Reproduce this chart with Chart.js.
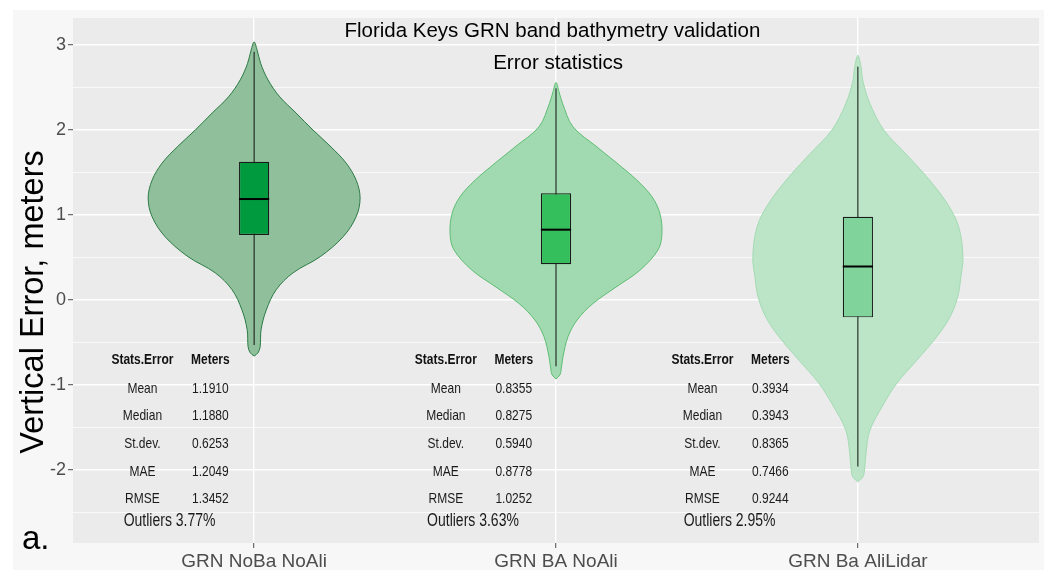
<!DOCTYPE html>
<html>
<head>
<meta charset="utf-8">
<title>Florida Keys GRN band bathymetry validation</title>
<script src="https://cdn.jsdelivr.net/npm/chart.js@4.4.1/dist/chart.umd.min.js"></script>
<style>
  html, body { margin: 0; padding: 0; background: #fff; }
  #wrap { width: 1044px; height: 572px; }
</style>
</head>
<body>
<div id="wrap"><canvas id="violinChart" width="1044" height="572"></canvas></div>
<script>
const categories = ['GRN NoBa NoAli', 'GRN BA NoAli', 'GRN Ba AliLidar'];

// violin outlines: error level (m) and half width (category units)
const levels1 = [-0.66, -0.62, -0.55, -0.35, -0.12, 0.12, 0.32, 0.51, 0.745, 0.98, 1.20, 1.41, 1.61, 1.80, 2.00, 2.20, 2.39, 2.59, 2.78, 2.94, 3.037];
const widths1 = [0, 0.013, 0.020, 0.023, 0.040, 0.073, 0.129, 0.219, 0.295, 0.338, 0.351, 0.338, 0.305, 0.255, 0.195, 0.139, 0.085, 0.046, 0.022, 0.010, 0];
const levels2 = [-0.93, -0.88, -0.82, -0.67, -0.43, -0.235, -0.04, 0.16, 0.35, 0.59, 0.785, 1.02, 1.215, 1.41, 1.61, 1.80, 2.04, 2.31, 2.45, 2.56];
const widths2 = [0, 0.013, 0.017, 0.023, 0.040, 0.070, 0.123, 0.202, 0.278, 0.338, 0.351, 0.344, 0.318, 0.268, 0.202, 0.136, 0.056, 0.022, 0.010, 0];
const levels3 = [-2.14, -2.08, -2.0, -1.80, -1.53, -1.22, -0.98, -0.71, -0.43, -0.20, 0.04, 0.27, 0.51, 0.86, 1.14, 1.45, 1.73, 2.0, 2.31, 2.57, 2.75, 2.88];
const widths3 = [0, 0.017, 0.022, 0.027, 0.040, 0.086, 0.129, 0.195, 0.262, 0.305, 0.331, 0.341, 0.348, 0.334, 0.295, 0.228, 0.156, 0.086, 0.040, 0.017, 0.010, 0];

// box plots
const q1 = [0.765, 0.42, -0.204];
const q3 = [1.627, 1.255, 0.98];
const whiskerLow = [-0.53, -0.78, -1.96];
const whiskerHigh = [2.92, 2.49, 2.745];

// error statistics per band setup
const statNames = ['Mean', 'Median', 'St.dev.', 'MAE', 'RMSE'];
const meanErr = [1.1910, 0.8355, 0.3934];
const medianErr = [1.1880, 0.8275, 0.3943];
const sdErr = [0.6253, 0.5940, 0.8365];
const maeErr = [1.2049, 0.8778, 0.7466];
const rmseErr = [1.3452, 1.0252, 0.9244];
const outlierPct = [3.77, 3.63, 2.95];

const yMajorTicks = [-2, -1, 0, 1, 2, 3];
const yMinorTicks = [-2.5, -1.5, -0.5, 0.5, 1.5, 2.5];

const FONT = "'Liberation Sans', Arial, sans-serif";
const BOX_WIDTH = 0.1;
const NARROW = 0.8; // condensed look of the table text
const violinFill = ['#8fc09b', '#a1dab0', '#bce5c8'];
const violinLine = ['#2c7a45', '#5fbd74', '#a3dbb3'];
const boxFill = ['#009a3e', '#35bf5c', '#80d39a'];

// table layout (x in category units, y in metres)
const tableX = [0.63, 1.635, 2.485];
const headerY = -0.706;
const rowY = [-1.04, -1.365, -1.69, -2.02, -2.345];
const outlierY = -2.608;

function violinPoints(center, levels, widths) {
  const right = levels.map((y, i) => ({ x: center + widths[i], y }));
  const left = levels.map((y, i) => ({ x: center - widths[i], y })).reverse().slice(1);
  return right.concat(left);
}

const violinSets = [[levels1, widths1], [levels2, widths2], [levels3, widths3]].map(([lv, wd], i) => ({
  type: 'line',
  data: violinPoints(i + 1, lv, wd),
  fill: 'shape',
  backgroundColor: violinFill[i],
  borderColor: violinLine[i],
  borderWidth: 1,
  pointRadius: 0,
  tension: 0.35,
  order: 4
}));

const whiskerSets = categories.map((c, i) => ({
  type: 'line',
  data: [{ x: i + 1, y: whiskerLow[i] }, { x: i + 1, y: whiskerHigh[i] }],
  borderColor: '#111',
  borderWidth: 1,
  pointRadius: 0,
  fill: false,
  order: 3
}));

const boxSet = {
  type: 'bar',
  data: categories.map((c, i) => ({ x: i + 1, y: [q1[i], q3[i]] })),
  backgroundColor: boxFill,
  borderColor: '#1a1a1a',
  borderWidth: 1.2,
  borderSkipped: false,
  barPercentage: BOX_WIDTH,
  categoryPercentage: 1,
  order: 2
};

const medianSets = categories.map((c, i) => ({
  type: 'line',
  data: [{ x: i + 1 - BOX_WIDTH / 2, y: medianErr[i] }, { x: i + 1 + BOX_WIDTH / 2, y: medianErr[i] }],
  borderColor: '#000',
  borderWidth: 2,
  pointRadius: 0,
  fill: false,
  order: 1
}));

const panelBg = {
  id: 'panelBg',
  beforeDraw(chart) {
    const { ctx, chartArea: a } = chart;
    ctx.save();
    ctx.fillStyle = '#ffffff';
    ctx.fillRect(0, 0, chart.width, chart.height);
    ctx.fillStyle = '#f7f7f7';
    ctx.fillRect(13, 10, chart.width - 13, chart.height - 12);
    ctx.fillStyle = '#ebebeb';
    ctx.fillRect(a.left, a.top, a.right - a.left, a.bottom - a.top);
    ctx.restore();
  }
};

function text(ctx, str, x, y, size, weight, color, sx = 1) {
  ctx.save();
  ctx.translate(x, y);
  ctx.scale(sx, 1);
  ctx.font = `${weight} ${size}px ${FONT}`;
  ctx.fillStyle = color;
  ctx.textAlign = 'center';
  ctx.textBaseline = 'middle';
  ctx.fillText(str, 0, 0);
  ctx.restore();
}

const annotations = {
  id: 'annotations',
  afterDatasetsDraw(chart) {
    const { ctx } = chart;
    const xs = chart.scales.x, ys = chart.scales.y;
    ctx.save();
    text(ctx, 'Florida Keys GRN band bathymetry validation', xs.getPixelForValue(1.988), ys.getPixelForValue(3.165), 20.5, 'normal', '#000');
    text(ctx, 'Error statistics', xs.getPixelForValue(2.007), ys.getPixelForValue(2.788), 20.5, 'normal', '#000');

    categories.forEach((c, i) => {
      const c1 = xs.getPixelForValue(tableX[i]);
      const c2 = xs.getPixelForValue(tableX[i] + 0.225);
      const vals = [meanErr[i], medianErr[i], sdErr[i], maeErr[i], rmseErr[i]];
      text(ctx, 'Stats.Error', c1, ys.getPixelForValue(headerY), 15, 'bold', '#111', NARROW);
      text(ctx, 'Meters', c2, ys.getPixelForValue(headerY), 15, 'bold', '#111', NARROW);
      statNames.forEach((name, r) => {
        text(ctx, name, c1, ys.getPixelForValue(rowY[r]), 15, 'normal', '#1a1a1a', NARROW);
        text(ctx, vals[r].toFixed(4), c2, ys.getPixelForValue(rowY[r]), 15, 'normal', '#1a1a1a', NARROW);
      });
      text(ctx, 'Outliers ' + outlierPct[i].toFixed(2) + '%', xs.getPixelForValue(tableX[i] + 0.09), ys.getPixelForValue(outlierY), 17.5, 'normal', '#1a1a1a', NARROW);
    });

    // y axis title
    ctx.save();
    ctx.translate(34, 302);
    ctx.rotate(-Math.PI / 2);
    text(ctx, 'Vertical Error, meters', 0, 0, 32.5, 'normal', '#000');
    ctx.restore();

    ctx.font = `normal 33px ${FONT}`;
    ctx.fillStyle = '#000';
    ctx.textAlign = 'left';
    ctx.textBaseline = 'alphabetic';
    ctx.fillText('a.', 22, 549);
    ctx.restore();
  }
};

const isMajor = v => yMajorTicks.includes(v);

new Chart(document.getElementById('violinChart'), {
  type: 'line',
  data: { datasets: [...violinSets, ...whiskerSets, boxSet, ...medianSets] },
  options: {
    responsive: false,
    devicePixelRatio: 1,
    animation: false,
    layout: { padding: { top: 18, right: 5, left: 0, bottom: 0 } },
    plugins: { legend: { display: false }, tooltip: { enabled: false } },
    scales: {
      x: {
        type: 'linear',
        min: 0.4,
        max: 3.6,
        offset: false,
        afterBuildTicks: s => { s.ticks = categories.map((c, i) => ({ value: i + 1 })); },
        afterFit: s => { s.height = 29; },
        border: { display: false },
        grid: { offset: false, color: '#ffffff', lineWidth: 1.4, tickLength: 5, tickColor: '#4d4d4d', tickWidth: 1 },
        ticks: {
          callback: v => categories[Math.round(v) - 1],
          font: { size: 19, family: FONT },
          color: '#4d4d4d',
          padding: 2,
          autoSkip: false,
          maxRotation: 0
        }
      },
      y: {
        min: -2.859,
        max: 3.318,
        afterBuildTicks: s => {
          s.ticks = yMinorTicks.concat(yMajorTicks).sort((a, b) => a - b).map(v => ({ value: v }));
        },
        afterFit: s => { s.width = 73; },
        border: { display: false },
        grid: {
          color: '#ffffff',
          lineWidth: ctx => (ctx.tick && isMajor(ctx.tick.value) ? 1.4 : 0.7),
          tickLength: 5,
          tickColor: ctx => (ctx.tick && isMajor(ctx.tick.value) ? '#4d4d4d' : 'rgba(0,0,0,0)'),
          tickWidth: 1
        },
        ticks: {
          callback: v => (isMajor(v) ? String(v) : ''),
          font: { size: 18, family: FONT },
          color: '#4d4d4d',
          padding: 2
        }
      }
    }
  },
  plugins: [panelBg, annotations]
});
</script>
</body>
</html>
